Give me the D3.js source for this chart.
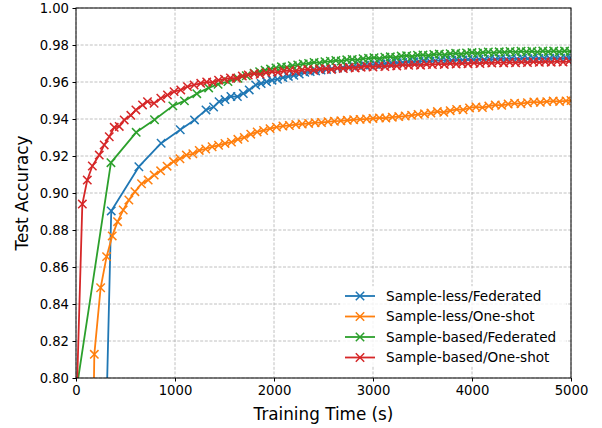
<!DOCTYPE html>
<html>
<head>
<meta charset="utf-8">
<script src="https://cdn.jsdelivr.net/npm/d3@7"></script>
<style>
  html, body { margin: 0; padding: 0; background: #fff; }
  svg { display: block; font-family: "DejaVu Sans", sans-serif; }
  .tick text { fill: #000; }
  .tick line { stroke: #000; stroke-width: 1; }
</style>
</head>
<body>
<svg id="chart" width="602" height="428"></svg>
<script>
// [time (s), test accuracy]
const sampleLessFederated = [
  [0, 0.100], [356, 0.8903], [635, 0.9142], [860, 0.9269], [1053, 0.9342], [1197, 0.9395],
  [1313, 0.9449], [1390, 0.9465], [1445, 0.9494], [1505, 0.9505], [1565, 0.9522], [1630, 0.9521],
  [1690, 0.9538], [1750, 0.9557], [1815, 0.9584], [1870, 0.9592], [1925, 0.9601], [1980, 0.9610],
  [2035, 0.9615], [2090, 0.9624], [2145, 0.9630], [2200, 0.9636], [2255, 0.9643], [2310, 0.9652],
  [2365, 0.9656], [2420, 0.9660], [2475, 0.9665], [2530, 0.9668], [2585, 0.9672], [2640, 0.9675],
  [2695, 0.9679], [2750, 0.9681], [2805, 0.9685], [2860, 0.9687], [2915, 0.9690], [2970, 0.9692],
  [3025, 0.9695], [3080, 0.9697], [3135, 0.9700], [3190, 0.9702], [3245, 0.9704], [3300, 0.9706],
  [3355, 0.9708], [3410, 0.9709], [3465, 0.9711], [3520, 0.9713], [3575, 0.9712], [3630, 0.9715],
  [3685, 0.9716], [3740, 0.9718], [3795, 0.9717], [3850, 0.9720], [3905, 0.9719], [3960, 0.9722],
  [4015, 0.9721], [4070, 0.9723], [4125, 0.9722], [4180, 0.9724], [4235, 0.9723], [4290, 0.9726],
  [4345, 0.9724], [4400, 0.9727], [4455, 0.9725], [4510, 0.9728], [4565, 0.9726], [4620, 0.9729],
  [4675, 0.9727], [4730, 0.9729], [4785, 0.9728], [4840, 0.9730], [4895, 0.9728], [4950, 0.9730],
  [5000, 0.9729]
];

const sampleLessOneShot = [
  [0, 0.100], [185, 0.8128], [249, 0.8488], [309, 0.8656], [366, 0.8768], [420, 0.8845],
  [477, 0.8908], [534, 0.8962], [595, 0.9007], [662, 0.9050], [729, 0.9070], [790, 0.9097],
  [855, 0.9120], [920, 0.9145], [985, 0.9170], [1050, 0.9185], [1115, 0.9205], [1180, 0.9212],
  [1245, 0.9230], [1310, 0.9238], [1375, 0.9250], [1440, 0.9258], [1505, 0.9268], [1570, 0.9275],
  [1635, 0.9290], [1700, 0.9300], [1765, 0.9318], [1830, 0.9330], [1895, 0.9338], [1960, 0.9348],
  [2025, 0.9356], [2090, 0.9362], [2155, 0.9365], [2220, 0.9370], [2285, 0.9373], [2350, 0.9376],
  [2415, 0.9380], [2480, 0.9381], [2545, 0.9385], [2610, 0.9388], [2675, 0.9390], [2740, 0.9393],
  [2805, 0.9396], [2870, 0.9398], [2935, 0.9400], [3000, 0.9403], [3065, 0.9406], [3130, 0.9405],
  [3195, 0.9410], [3260, 0.9413], [3325, 0.9416], [3390, 0.9420], [3455, 0.9425], [3520, 0.9428],
  [3585, 0.9432], [3650, 0.9440], [3715, 0.9436], [3780, 0.9445], [3845, 0.9452], [3910, 0.9450],
  [3975, 0.9460], [4040, 0.9465], [4105, 0.9462], [4170, 0.9470], [4235, 0.9476], [4300, 0.9474],
  [4365, 0.9481], [4430, 0.9485], [4495, 0.9483], [4560, 0.9488], [4625, 0.9492], [4690, 0.9490],
  [4755, 0.9494], [4820, 0.9497], [4885, 0.9495], [4950, 0.9498], [5000, 0.9500]
];

const sampleBasedFederated = [
  [0, 0.792], [353, 0.9164], [608, 0.9328], [793, 0.9396], [978, 0.9471], [1095, 0.9498],
  [1220, 0.9537], [1340, 0.9568], [1435, 0.9588], [1535, 0.9602], [1636, 0.9620], [1720, 0.9634],
  [1800, 0.9648], [1855, 0.9656], [1910, 0.9664], [1965, 0.9670], [2020, 0.9676], [2075, 0.9682],
  [2130, 0.9680], [2185, 0.9688], [2240, 0.9692], [2295, 0.9698], [2350, 0.9700], [2405, 0.9706],
  [2460, 0.9703], [2515, 0.9710], [2570, 0.9712], [2625, 0.9716], [2680, 0.9713], [2735, 0.9720],
  [2790, 0.9722], [2845, 0.9719], [2900, 0.9726], [2955, 0.9728], [3010, 0.9731], [3065, 0.9727],
  [3120, 0.9734], [3175, 0.9736], [3230, 0.9733], [3285, 0.9740], [3340, 0.9742], [3395, 0.9738],
  [3450, 0.9745], [3505, 0.9746], [3560, 0.9743], [3615, 0.9749], [3670, 0.9751], [3725, 0.9747],
  [3780, 0.9753], [3835, 0.9755], [3890, 0.9751], [3945, 0.9757], [4000, 0.9759], [4055, 0.9755],
  [4110, 0.9760], [4165, 0.9762], [4220, 0.9758], [4275, 0.9763], [4330, 0.9761], [4385, 0.9765],
  [4440, 0.9762], [4495, 0.9766], [4550, 0.9763], [4605, 0.9766], [4660, 0.9762], [4715, 0.9767],
  [4770, 0.9764], [4825, 0.9767], [4880, 0.9763], [4935, 0.9767], [4990, 0.9765]
];

const sampleBasedOneShot = [
  [0, 0.776], [64, 0.894], [114, 0.907], [165, 0.9146], [235, 0.9205], [285, 0.926],
  [336, 0.9304], [386, 0.9355], [437, 0.936], [487, 0.9395], [554, 0.942], [605, 0.9449],
  [672, 0.9476], [722, 0.9494], [789, 0.9485], [857, 0.9512], [924, 0.953], [991, 0.9548],
  [1058, 0.9557], [1126, 0.9575], [1193, 0.9584], [1260, 0.9593], [1320, 0.9600], [1380, 0.9598],
  [1440, 0.9610], [1500, 0.9615], [1560, 0.9622], [1620, 0.9620], [1680, 0.9632], [1740, 0.9638],
  [1800, 0.9645], [1860, 0.9642], [1920, 0.9650], [1980, 0.9655], [2040, 0.9652], [2100, 0.9660],
  [2160, 0.9662], [2220, 0.9658], [2280, 0.9665], [2340, 0.9668], [2400, 0.9664], [2460, 0.9670],
  [2520, 0.9672], [2580, 0.9668], [2640, 0.9675], [2700, 0.9673], [2760, 0.9678], [2820, 0.9676],
  [2880, 0.9680], [2940, 0.9684], [3000, 0.9681], [3060, 0.9686], [3120, 0.9684], [3180, 0.9689],
  [3240, 0.9687], [3300, 0.9692], [3360, 0.9690], [3420, 0.9694], [3480, 0.9691], [3540, 0.9696],
  [3600, 0.9694], [3660, 0.9698], [3720, 0.9695], [3780, 0.9700], [3840, 0.9697], [3900, 0.9701],
  [3960, 0.9699], [4020, 0.9703], [4080, 0.9700], [4140, 0.9705], [4200, 0.9702], [4260, 0.9706],
  [4320, 0.9703], [4380, 0.9707], [4440, 0.9704], [4500, 0.9708], [4560, 0.9705], [4620, 0.9709],
  [4680, 0.9706], [4740, 0.9710], [4800, 0.9707], [4860, 0.9711], [4920, 0.9708], [4980, 0.9712]
];

const seriesNames = ["Sample-less/Federated", "Sample-less/One-shot", "Sample-based/Federated", "Sample-based/One-shot"];
const seriesData = [sampleLessFederated, sampleLessOneShot, sampleBasedFederated, sampleBasedOneShot];
const seriesColors = ["#1f77b4", "#ff7f0e", "#2ca02c", "#d62728"];
const xTicks = [0, 1000, 2000, 3000, 4000, 5000];
const yTicks = [0.80, 0.82, 0.84, 0.86, 0.88, 0.90, 0.92, 0.94, 0.96, 0.98, 1.00];

const margin = { left: 76, right: 31, top: 8, bottom: 50 };
const width = 602, height = 428;

const svg = d3.select("#chart");

const x = d3.scaleLinear().domain([0, 5000]).range([margin.left, width - margin.right]);
const y = d3.scaleLinear().domain([0.80, 1.00]).range([height - margin.bottom, margin.top]);

const [x0, x1] = x.range();
const [y1, y0] = y.range();

svg.append("defs").append("clipPath").attr("id", "plot-clip")
  .append("rect")
  .attr("x", x0).attr("y", y0)
  .attr("width", x1 - x0).attr("height", y1 - y0);

// dashed grid
const grid = svg.append("g").attr("stroke", "#b0b0b0").attr("stroke-width", 0.8)
  .attr("stroke-dasharray", "3,1.6");
grid.selectAll("line.gx").data(xTicks).join("line")
  .attr("x1", d => x(d)).attr("x2", d => x(d))
  .attr("y1", y0).attr("y2", y1);
grid.selectAll("line.gy").data(yTicks).join("line")
  .attr("x1", x0).attr("x2", x1)
  .attr("y1", d => y(d)).attr("y2", d => y(d));

// axes
svg.append("g")
  .attr("transform", `translate(0,${y1})`)
  .call(d3.axisBottom(x).tickValues(xTicks).tickFormat(d3.format("d")).tickSize(3.5).tickPadding(4))
  .call(g => g.select(".domain").remove());

svg.append("g")
  .attr("transform", `translate(${x0},0)`)
  .call(d3.axisLeft(y).tickValues(yTicks).tickFormat(d3.format(".2f")).tickSize(3.5).tickPadding(3.5))
  .call(g => g.select(".domain").remove());

svg.selectAll(".tick text").attr("font-family", "DejaVu Sans").attr("font-size", 13.2);

// axis labels
svg.append("text")
  .attr("x", (x0 + x1) / 2).attr("y", 420)
  .attr("text-anchor", "middle")
  .attr("font-size", 16.8)
  .text("Training Time (s)");

svg.append("text")
  .attr("transform", `translate(28,${(y0 + y1) / 2}) rotate(-90)`)
  .attr("text-anchor", "middle")
  .attr("font-size", 16.8)
  .text("Test Accuracy");

// x shaped marker
const cross = s => `M${-s},${-s}L${s},${s}M${-s},${s}L${s},${-s}`;

const line = d3.line().x(d => x(d[0])).y(d => y(d[1]));

const plot = svg.append("g").attr("clip-path", "url(#plot-clip)");

seriesData.forEach((data, i) => {
  const g = plot.append("g");
  g.append("path")
    .datum(data)
    .attr("d", line)
    .attr("fill", "none")
    .attr("stroke", seriesColors[i])
    .attr("stroke-width", 1.8)
    .attr("stroke-linejoin", "round");
  g.selectAll("path.mk")
    .data(data)
    .join("path")
    .attr("class", "mk")
    .attr("d", cross(4.2))
    .attr("transform", d => `translate(${x(d[0])},${y(d[1])})`)
    .attr("stroke", seriesColors[i])
    .attr("stroke-width", 1.5)
    .attr("fill", "none");
});

// frame
svg.append("rect")
  .attr("x", x0).attr("y", y0)
  .attr("width", x1 - x0).attr("height", y1 - y0)
  .attr("fill", "none").attr("stroke", "#000").attr("stroke-width", 1);

// legend
const legend = svg.append("g").attr("transform", "translate(340,286)");
legend.append("rect")
  .attr("x", 0).attr("y", 0).attr("width", 226).attr("height", 80)
  .attr("fill", "#fff").attr("fill-opacity", 0.8);

seriesNames.forEach((name, i) => {
  const row = legend.append("g").attr("transform", `translate(0,${10 + i * 20.5})`);
  row.append("line")
    .attr("x1", 5).attr("x2", 35).attr("y1", 0).attr("y2", 0)
    .attr("stroke", seriesColors[i]).attr("stroke-width", 1.8);
  row.append("path")
    .attr("d", cross(4.2))
    .attr("transform", "translate(20,0)")
    .attr("stroke", seriesColors[i]).attr("stroke-width", 1.5)
    .attr("fill", "none");
  row.append("text")
    .attr("x", 46).attr("y", 0).attr("dy", "0.35em")
    .attr("font-size", 13.6)
    .text(name);
});
</script>
</body>
</html>
